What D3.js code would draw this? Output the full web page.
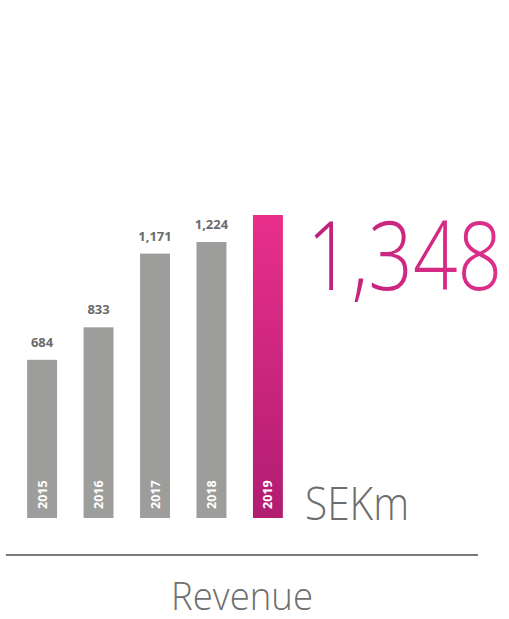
<!DOCTYPE html>
<html>
<head>
<meta charset="utf-8">
<script src="https://cdn.jsdelivr.net/npm/d3@7"></script>
<style>
  body { margin: 0; background: #fff; }
  svg { display: block; font-family: "Open Sans", sans-serif; }
</style>
</head>
<body>
<svg id="chart"></svg>
<script>
// Revenue per year, SEKm
const years = ["2015", "2016", "2017", "2018", "2019"];
const revenue = [684, 833, 1171, 1224, 1348];
const valueLabels = ["684", "833", "1,171", "1,224", "1,348"];

const width = 509, height = 619;
const baseline = 518;

const svg = d3.select("#chart").attr("width", width).attr("height", height);

// Gradient for the highlighted year
const defs = svg.append("defs");
const grad = defs.append("linearGradient")
    .attr("id", "barGrad").attr("x1", 0).attr("y1", 0).attr("x2", 0).attr("y2", 1);
grad.append("stop").attr("offset", "0%").attr("stop-color", "#e82f8b");
grad.append("stop").attr("offset", "100%").attr("stop-color", "#b01d71");

const textGrad = defs.append("linearGradient")
    .attr("id", "textGrad").attr("x1", 0).attr("y1", 0).attr("x2", 1).attr("y2", 0);
textGrad.append("stop").attr("offset", "0%").attr("stop-color", "#be2079");
textGrad.append("stop").attr("offset", "100%").attr("stop-color", "#de2f8b");

// Scales
const x = d3.scaleBand().domain(years).range([13, 297]).paddingInner(0.47).paddingOuter(0.25);
const y = d3.scaleLinear().domain([0, 1348]).range([509, 215]);

const last = years.length - 1;

// Bars
svg.append("g")
    .selectAll("rect")
    .data(revenue)
    .enter()
    .append("rect")
    .attr("x", (d, i) => x(years[i]))
    .attr("y", d => y(d))
    .attr("width", x.bandwidth())
    .attr("height", d => baseline - y(d))
    .attr("fill", (d, i) => i === last ? "url(#barGrad)" : "#9d9d9b");

// Value labels above grey bars
svg.append("g")
    .selectAll("text")
    .data(revenue.slice(0, last))
    .enter()
    .append("text")
    .attr("x", (d, i) => x(years[i]) + x.bandwidth() / 2)
    .attr("y", d => y(d) - 13)
    .attr("text-anchor", "middle")
    .attr("font-size", "13px")
    .attr("font-weight", "bold")
    .attr("fill", "#6b6b6b")
    .text((d, i) => valueLabels[i]);

// Year labels inside bars, rotated
svg.append("g")
    .selectAll("text")
    .data(years)
    .enter()
    .append("text")
    .attr("transform", d => "translate(" + (x(d) + x.bandwidth() / 2 + 4.5) + "," + (baseline - 9) + ") rotate(-90)")
    .attr("font-size", "12.5px")
    .attr("font-weight", "bold")
    .attr("fill", "#fff")
    .text(d => d);

// Big highlighted value
svg.append("text")
    .attr("x", 307)
    .attr("y", 290)
    .attr("font-size", "96px")
    .attr("font-weight", 300)
    .attr("textLength", 195)
    .attr("lengthAdjust", "spacingAndGlyphs")
    .attr("fill", "url(#textGrad)")
    .text(valueLabels[last]);

// Unit
svg.append("text")
    .attr("x", 305)
    .attr("y", 520)
    .attr("font-size", "46px")
    .attr("font-weight", 300)
    .attr("textLength", 104)
    .attr("lengthAdjust", "spacingAndGlyphs")
    .attr("fill", "#6d6d6d")
    .text("SEKm");

// Divider
svg.append("line")
    .attr("x1", 6).attr("x2", 478)
    .attr("y1", 555).attr("y2", 555)
    .attr("stroke", "#7a7a7a")
    .attr("stroke-width", 2);

// Title
svg.append("text")
    .attr("x", 171)
    .attr("y", 610)
    .attr("font-size", "39px")
    .attr("font-weight", 300)
    .attr("textLength", 142)
    .attr("lengthAdjust", "spacingAndGlyphs")
    .attr("fill", "#6f6f6f")
    .text("Revenue");
</script>
</body>
</html>
